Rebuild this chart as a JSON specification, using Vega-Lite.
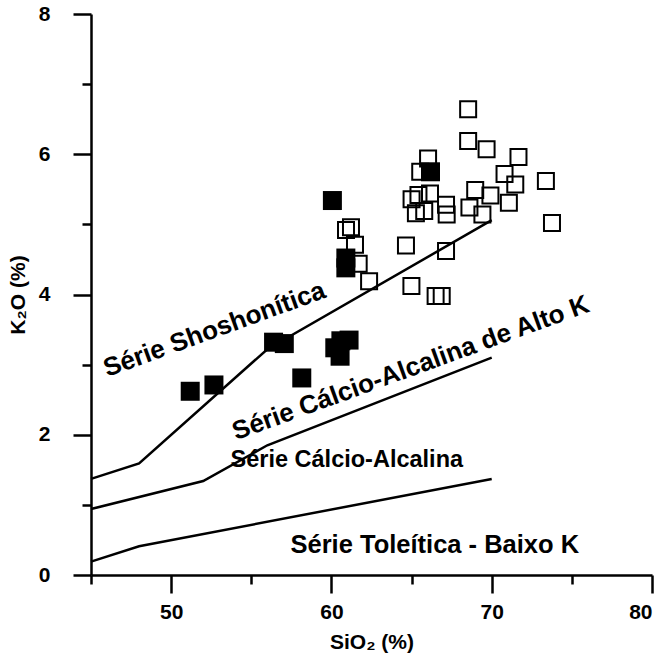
{
  "$schema": "https://vega.github.io/schema/vega-lite/v6.json",
  "autosize": {"type": "none"},
  "padding": {"left": 91, "top": 14, "right": 13, "bottom": 85},
  "width": 561,
  "height": 561,
  "background": "white",
  "config": {
    "view": {"stroke": null},
    "font": "Liberation Sans",
    "axis": {
      "domainColor": "black",
      "domainWidth": 2.5,
      "ticks": true,
      "tickColor": "black",
      "tickWidth": 2.5,
      "grid": false,
      "labelFont": "Liberation Sans",
      "labelFontWeight": "bold",
      "labelFontSize": 21,
      "labelColor": "black",
      "titleFont": "Liberation Sans",
      "titleFontWeight": "bold",
      "titleFontSize": 21,
      "titleColor": "black"
    }
  },
  "datasets": {
    "boundaries": [
      {"boundary": "Shoshonitic / High-K", "SiO2": 45, "K2O": 1.37},
      {"boundary": "Shoshonitic / High-K", "SiO2": 48, "K2O": 1.59},
      {"boundary": "Shoshonitic / High-K", "SiO2": 56, "K2O": 3.22},
      {"boundary": "Shoshonitic / High-K", "SiO2": 70, "K2O": 5.06},
      {"boundary": "High-K / Calc-alkaline", "SiO2": 45, "K2O": 0.94},
      {"boundary": "High-K / Calc-alkaline", "SiO2": 52, "K2O": 1.34},
      {"boundary": "High-K / Calc-alkaline", "SiO2": 56, "K2O": 1.85},
      {"boundary": "High-K / Calc-alkaline", "SiO2": 70, "K2O": 3.1},
      {"boundary": "Calc-alkaline / Tholeiitic", "SiO2": 45, "K2O": 0.19},
      {"boundary": "Calc-alkaline / Tholeiitic", "SiO2": 48, "K2O": 0.41},
      {"boundary": "Calc-alkaline / Tholeiitic", "SiO2": 70, "K2O": 1.37}
    ],
    "samples": [
      {"group": "open", "SiO2": 68.53, "K2O": 6.64},
      {"group": "open", "SiO2": 68.53, "K2O": 6.19},
      {"group": "open", "SiO2": 69.68, "K2O": 6.07},
      {"group": "open", "SiO2": 71.67, "K2O": 5.96},
      {"group": "open", "SiO2": 66.03, "K2O": 5.94},
      {"group": "open", "SiO2": 65.54, "K2O": 5.75},
      {"group": "open", "SiO2": 70.8, "K2O": 5.72},
      {"group": "open", "SiO2": 71.47, "K2O": 5.57},
      {"group": "open", "SiO2": 73.38, "K2O": 5.62},
      {"group": "open", "SiO2": 68.97, "K2O": 5.49},
      {"group": "open", "SiO2": 69.92, "K2O": 5.41},
      {"group": "open", "SiO2": 71.07, "K2O": 5.31},
      {"group": "open", "SiO2": 65.0, "K2O": 5.36},
      {"group": "open", "SiO2": 65.43, "K2O": 5.42},
      {"group": "open", "SiO2": 66.15, "K2O": 5.44},
      {"group": "open", "SiO2": 65.27, "K2O": 5.16},
      {"group": "open", "SiO2": 65.79, "K2O": 5.19},
      {"group": "open", "SiO2": 67.15, "K2O": 5.28},
      {"group": "open", "SiO2": 67.19, "K2O": 5.14},
      {"group": "open", "SiO2": 68.61, "K2O": 5.24},
      {"group": "open", "SiO2": 69.42, "K2O": 5.14},
      {"group": "open", "SiO2": 73.76, "K2O": 5.02},
      {"group": "open", "SiO2": 64.65, "K2O": 4.7},
      {"group": "open", "SiO2": 67.15, "K2O": 4.62},
      {"group": "open", "SiO2": 64.99, "K2O": 4.12},
      {"group": "open", "SiO2": 66.5, "K2O": 3.98},
      {"group": "open", "SiO2": 66.88, "K2O": 3.98},
      {"group": "open", "SiO2": 60.91, "K2O": 4.92},
      {"group": "open", "SiO2": 61.22, "K2O": 4.96},
      {"group": "open", "SiO2": 61.47, "K2O": 4.71},
      {"group": "open", "SiO2": 61.7, "K2O": 4.44},
      {"group": "open", "SiO2": 62.35, "K2O": 4.19},
      {"group": "filled", "SiO2": 51.19, "K2O": 2.62},
      {"group": "filled", "SiO2": 52.67, "K2O": 2.71},
      {"group": "filled", "SiO2": 56.39, "K2O": 3.32},
      {"group": "filled", "SiO2": 57.06, "K2O": 3.3},
      {"group": "filled", "SiO2": 58.15, "K2O": 2.81},
      {"group": "filled", "SiO2": 60.21, "K2O": 3.24},
      {"group": "filled", "SiO2": 60.59, "K2O": 3.34},
      {"group": "filled", "SiO2": 61.1, "K2O": 3.35},
      {"group": "filled", "SiO2": 60.54, "K2O": 3.12},
      {"group": "filled", "SiO2": 60.06, "K2O": 5.34},
      {"group": "filled", "SiO2": 60.9, "K2O": 4.52},
      {"group": "filled", "SiO2": 60.9, "K2O": 4.38},
      {"group": "filled", "SiO2": 66.18, "K2O": 5.75}
    ],
    "fields": [
      {"label": "Série Shoshonítica", "SiO2": 52.7, "K2O": 3.5, "tilted": true},
      {"label": "Série Cálcio-Alcalina de Alto K", "SiO2": 64.95, "K2O": 2.95, "tilted": true},
      {"label": "Série Cálcio-Alcalina", "SiO2": 60.96, "K2O": 1.64, "tilted": false},
      {"label": "Série Toleítica - Baixo K", "SiO2": 66.45, "K2O": 0.43, "tilted": false}
    ]
  },
  "layer": [
    {
      "data": {"name": "boundaries"},
      "mark": {"type": "line", "color": "black", "strokeWidth": 2.5},
      "encoding": {
        "x": {
          "field": "SiO2", "type": "quantitative",
          "scale": {"domain": [45, 80], "nice": false, "zero": false},
          "axis": {
            "orient": "bottom",
            "values": [45, 50, 55, 60, 65, 70, 75, 80],
            "format": "d",
            "tickSize": {"condition": {"test": "datum.value % 10 === 0", "value": 18}, "value": 9},
            "labelExpr": "datum.value % 10 === 0 ? datum.label : ''",
            "labelPadding": 8,
            "title": "SiO₂ (%)",
            "titlePadding": 9
          }
        },
        "y": {
          "field": "K2O", "type": "quantitative",
          "scale": {"domain": [0, 8], "nice": false, "zero": false},
          "axis": {
            "orient": "left",
            "values": [0, 1, 2, 3, 4, 5, 6, 7, 8],
            "format": "d",
            "tickSize": {"condition": {"test": "datum.value % 2 === 0", "value": 18}, "value": 9},
            "labelExpr": "datum.value % 2 === 0 ? datum.label : ''",
            "labelPadding": 23,
            "title": "K₂O (%)",
            "titlePadding": 10
          }
        },
        "detail": {"field": "boundary"}
      }
    },
    {
      "data": {"name": "samples"},
      "transform": [{"filter": "datum.group === 'open'"}],
      "mark": {"type": "point", "shape": "square", "filled": false, "stroke": "black", "strokeWidth": 2, "size": 256, "opacity": 1},
      "encoding": {
        "x": {"field": "SiO2", "type": "quantitative"},
        "y": {"field": "K2O", "type": "quantitative"}
      }
    },
    {
      "data": {"name": "samples"},
      "transform": [{"filter": "datum.group === 'filled'"}],
      "mark": {"type": "square", "color": "black", "size": 361, "opacity": 1},
      "encoding": {
        "x": {"field": "SiO2", "type": "quantitative"},
        "y": {"field": "K2O", "type": "quantitative"}
      }
    },
    {
      "data": {"name": "fields"},
      "transform": [{"filter": "datum.tilted"}],
      "mark": {"type": "text", "angle": -20, "align": "center", "baseline": "middle", "font": "Liberation Sans", "fontWeight": "bold", "fontSize": 26, "color": "black"},
      "encoding": {
        "x": {"field": "SiO2", "type": "quantitative"},
        "y": {"field": "K2O", "type": "quantitative"},
        "text": {"field": "label"}
      }
    },
    {
      "data": {"name": "fields"},
      "transform": [{"filter": "datum.label === 'Série Cálcio-Alcalina'"}],
      "mark": {"type": "text", "align": "center", "baseline": "middle", "font": "Liberation Sans", "fontWeight": "bold", "fontSize": 23.5, "color": "black"},
      "encoding": {
        "x": {"field": "SiO2", "type": "quantitative"},
        "y": {"field": "K2O", "type": "quantitative"},
        "text": {"field": "label"}
      }
    },
    {
      "data": {"name": "fields"},
      "transform": [{"filter": "datum.label === 'Série Toleítica - Baixo K'"}],
      "mark": {"type": "text", "align": "center", "baseline": "middle", "font": "Liberation Sans", "fontWeight": "bold", "fontSize": 25.5, "color": "black"},
      "encoding": {
        "x": {"field": "SiO2", "type": "quantitative"},
        "y": {"field": "K2O", "type": "quantitative"},
        "text": {"field": "label"}
      }
    }
  ]
}
